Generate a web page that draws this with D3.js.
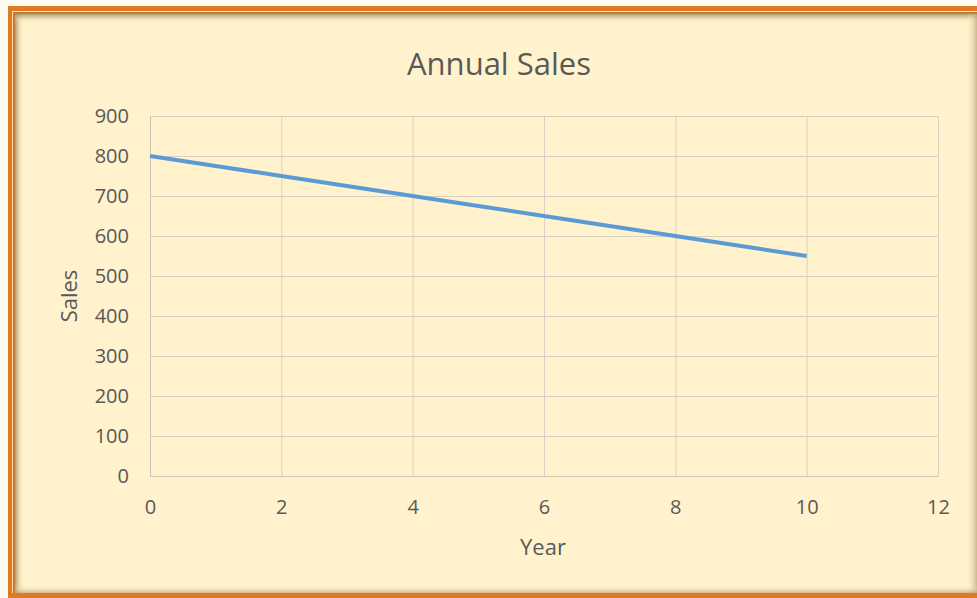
<!DOCTYPE html>
<html><head><meta charset="utf-8">
<script src="https://cdn.jsdelivr.net/npm/d3@7"></script>
<style>html,body{margin:0;padding:0;background:#fff;}svg{display:block;}</style>
</head><body>
<svg id="chart" width="977" height="598"></svg>
<script>
const years = [0, 1, 2, 3, 4, 5, 6, 7, 8, 9, 10];
const sales = [800, 775, 750, 725, 700, 675, 650, 625, 600, 575, 550];
const xTicks = [0, 2, 4, 6, 8, 10, 12];
const yTicks = [0, 100, 200, 300, 400, 500, 600, 700, 800, 900];
const chartTitle = "Annual Sales";
const xTitle = "Year";
const yTitle = "Sales";

(function () {
const svg = d3.select("#chart");
const font = "'Open Sans', Lato, sans-serif";
const textCol = "#595959";

const defs = svg.append("defs");
function grad(id, horiz, c0, o0, c1, o1) {
  const g = defs.append("linearGradient").attr("id", id)
    .attr("x1", "0").attr("y1", "0").attr("x2", horiz ? "1" : "0").attr("y2", horiz ? "0" : "1");
  g.append("stop").attr("offset", "0").attr("stop-color", c0).attr("stop-opacity", o0);
  g.append("stop").attr("offset", "1").attr("stop-color", c1).attr("stop-opacity", o1);
}
grad("shL", true, "#a88a5a", 0.85, "#fff2cc", 0);
grad("shT", false, "#a88a5a", 0.85, "#fff2cc", 0);
grad("shR", true, "#fff2cc", 0, "#b8a070", 0.7);
grad("shB", false, "#fff2cc", 0, "#b8a070", 0.7);

// frame
svg.append("rect").attr("x",0).attr("y",0).attr("width",977).attr("height",598).attr("fill","#fdfaf4");
svg.append("rect").attr("x",8).attr("y",6).attr("width",980).attr("height",600).attr("fill","#e07a22");
svg.append("rect").attr("x",12).attr("y",11).attr("width",980).attr("height",582).attr("fill","#fbe3b0");
svg.append("rect").attr("x",13).attr("y",12).attr("width",980).attr("height",581).attr("fill","#c9783a");
svg.append("rect").attr("x",15).attr("y",14).attr("width",980).attr("height",579).attr("fill","#fff2cc");
svg.append("rect").attr("x",15).attr("y",14).attr("width",9).attr("height",579).attr("fill","url(#shL)");
svg.append("rect").attr("x",15).attr("y",14).attr("width",962).attr("height",9).attr("fill","url(#shT)");
svg.append("rect").attr("x",966).attr("y",14).attr("width",11).attr("height",579).attr("fill","url(#shR)");
svg.append("rect").attr("x",15).attr("y",585).attr("width",962).attr("height",8).attr("fill","url(#shB)");

const pLeft = 150, pRight = 938, pTop = 116, pBottom = 476;
const x = d3.scaleLinear().domain([0, 12]).range([pLeft, pRight]);
const y = d3.scaleLinear().domain([0, 900]).range([pBottom, pTop]);

// gridlines
svg.append("g").selectAll("line").data(yTicks).join("line")
  .attr("x1", pLeft).attr("x2", pRight)
  .attr("y1", d => y(d) + 0.5).attr("y2", d => y(d) + 0.5)
  .attr("stroke", "#d8d2c4").attr("stroke-width", 1);
svg.append("g").selectAll("line").data(xTicks).join("line")
  .attr("y1", pTop).attr("y2", pBottom)
  .attr("x1", d => x(d) + 0.5).attr("x2", d => x(d) + 0.5)
  .attr("stroke", "#d8d2c4").attr("stroke-width", 1);

// axes
const xAxis = svg.append("g").attr("transform", `translate(0,${pBottom})`)
  .call(d3.axisBottom(x).tickValues(xTicks).tickSize(0).tickPadding(24));
xAxis.select(".domain").attr("stroke", "#cfc7b6");
xAxis.selectAll("text").attr("font-family", font).attr("font-size", 20).attr("fill", textCol);

const yAxis = svg.append("g").attr("transform", `translate(${pLeft},0)`)
  .call(d3.axisLeft(y).tickValues(yTicks).tickSize(0).tickPadding(21));
yAxis.select(".domain").attr("stroke", "#cfc7b6");
yAxis.selectAll("text").attr("font-family", font).attr("font-size", 20).attr("fill", textCol);

// line
svg.append("path").datum(years.map((yr, i) => [yr, sales[i]]))
  .attr("fill", "none").attr("stroke", "#5b9bd5").attr("stroke-width", 4)
  .attr("stroke-linejoin", "round")
  .attr("d", d3.line().x(d => x(d[0])).y(d => y(d[1])));

// titles
svg.append("text").attr("x", 499).attr("y", 75).attr("text-anchor", "middle")
  .attr("font-family", font).attr("font-size", 31).attr("fill", textCol).text(chartTitle);
svg.append("text").attr("x", 543).attr("y", 555).attr("text-anchor", "middle")
  .attr("font-family", font).attr("font-size", 22).attr("fill", textCol).text(xTitle);
svg.append("text").attr("transform", "translate(77,296) rotate(-90)").attr("text-anchor", "middle")
  .attr("font-family", font).attr("font-size", 22).attr("fill", textCol).text(yTitle);
})();
</script>
</body></html>
